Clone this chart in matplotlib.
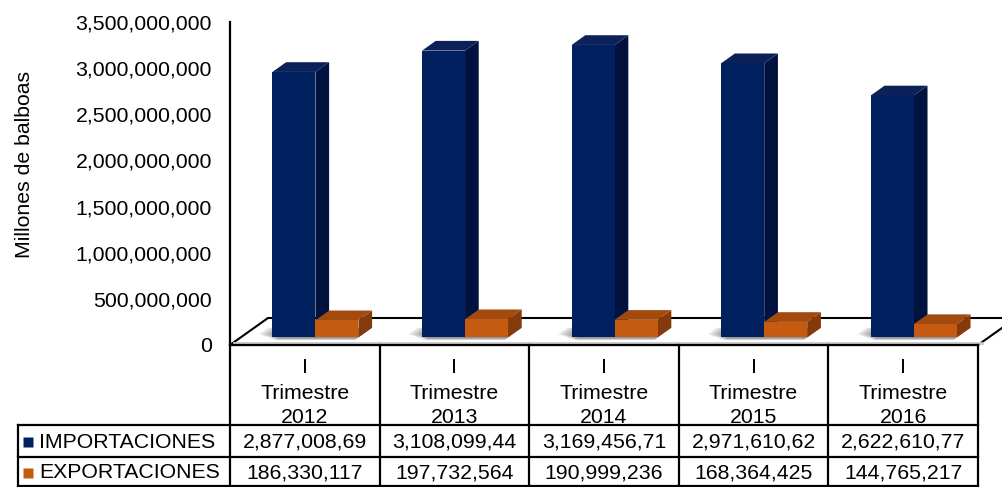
import numpy as np
import matplotlib.pyplot as plt
from matplotlib.patches import Polygon
from matplotlib.ticker import FuncFormatter

plt.rcParams['font.family'] = ['Liberation Sans', 'DejaVu Sans']

# datos
categorias = ['I\nTrimestre\n2012', 'I\nTrimestre\n2013', 'I\nTrimestre\n2014',
              'I\nTrimestre\n2015', 'I\nTrimestre\n2016']
importaciones = [2877008690, 3108099440, 3169456710, 2971610620, 2622610770]
exportaciones = [186330117, 197732564, 190999236, 168364425, 144765217]
imp_txt = ['2,877,008,69', '3,108,099,44', '3,169,456,71', '2,971,610,62', '2,622,610,77']
exp_txt = ['186,330,117', '197,732,564', '190,999,236', '168,364,425', '144,765,217']
series = ['IMPORTACIONES', 'EXPORTACIONES']

# colores (frente, arriba, lado)
azul = ('#002060', '#0c2157', '#00123d')
naranja = ('#c55a11', '#a34a0f', '#86390a')

W, H = 1002, 487
FS = 15.3
DX, DY = 38, 27      # profundidad del piso en pixeles
fig = plt.figure(figsize=(W / 100, H / 100), dpi=100)

ax = fig.add_axes([230 / W, (H - 345) / H, 748 / W, 323 / H])
ax.set_xlim(0, len(categorias))
ax.set_ylim(0, 3.5e9)
ax.set_yticks(np.arange(0, 3.5e9 + 1, 5e8))
ax.yaxis.set_major_formatter(FuncFormatter(lambda v, p: f'{v:,.0f}'))
ax.tick_params(axis='y', length=0, pad=13, labelsize=FS)
ax.set_xticks([])
for s in ['top', 'right', 'bottom']:
    ax.spines[s].set_visible(False)
ax.spines['left'].set_linewidth(1.6)
ax.patch.set_alpha(0)
ax.set_ylabel('Millones de balboas', fontsize=FS)
ax.yaxis.set_label_coords(-0.262, 0.56)

# capa en pixeles para el 3D y la tabla
ov = fig.add_axes([0, 0, 1, 1])
ov.set_xlim(0, W)
ov.set_ylim(H, 0)
ov.axis('off')


def P(x, v, d):
    pt = ax.transData.transform((x, v))
    return (pt[0] + d * DX, H - pt[1] - d * DY)


def caja(x0, x1, v, d0, d1, col, z):
    frente = [P(x0, 0, d0), P(x1, 0, d0), P(x1, v, d0), P(x0, v, d0)]
    arriba = [P(x0, v, d0), P(x1, v, d0), P(x1, v, d1), P(x0, v, d1)]
    lado = [P(x1, 0, d0), P(x1, 0, d1), P(x1, v, d1), P(x1, v, d0)]
    ov.add_patch(Polygon(lado, closed=True, fc=col[2], ec='none', zorder=z))
    ov.add_patch(Polygon(arriba, closed=True, fc=col[1], ec='none', zorder=z))
    ov.add_patch(Polygon(frente, closed=True, fc=col[0], ec='none', zorder=z))


n = len(categorias)
# piso
piso = [P(0, 0, 0), P(n, 0, 0), P(n, 0, 1), P(0, 0, 1)]
ov.add_patch(Polygon(piso, closed=True, fc='white', ec='black', lw=1.5, zorder=1))
x_a, y_a = P(0, 0, 0.1)
x_b, _ = P(n, 0, 0.1)
ov.plot([x_a, x_b], [y_a + 1, y_a + 1], color='#c8c8c8', lw=2, zorder=1.5)

bw = 43 / 149.6
d0, d1 = 0.28, 0.64
for i in range(n):
    c = i + 0.5
    # sombra difusa
    for k in range(7):
        w = 0.015 + k * 0.018
        sh = [P(c - bw - w, 0, d0 + 0.12), P(c - bw + 0.05, 0, d0 - 0.03 - k * 0.012),
              P(c + bw, 0, d0 - 0.03 - k * 0.012), P(c + bw, 0, d1), P(c - bw - w, 0, d1)]
        ov.add_patch(Polygon(sh, closed=True, fc='black', ec='none', alpha=0.07, zorder=2))
    caja(c - bw, c, importaciones[i], d0, d1, azul, 3)
    caja(c, c + bw, exportaciones[i], d0, d1, naranja, 4)

# tabla
lw = 1.6
xs = [P(i, 0, 0)[0] for i in range(n + 1)]
ov.plot([xs[0], xs[-1]], [345, 345], color='black', lw=lw, zorder=5)
for y in [425, 457, 486]:
    ov.plot([18, xs[-1]], [y, y], color='black', lw=lw, zorder=5)
for x in xs:
    ov.plot([x, x], [345, H], color='black', lw=lw, zorder=5)
ov.plot([18, 18], [425, H], color='black', lw=lw, zorder=5)

for i in range(n):
    cx = (xs[i] + xs[i + 1]) / 2
    for linea, yb in zip(categorias[i].split('\n'), [373, 399, 423]):
        ov.text(cx, yb, linea, ha='center', va='baseline', fontsize=FS)
    ov.text(cx, 442, imp_txt[i], ha='center', va='center', fontsize=FS)
    ov.text(cx, 473, exp_txt[i], ha='center', va='center', fontsize=FS)

for y, nombre, col in zip([442, 473], series, [azul, naranja]):
    ov.plot(28, y, marker='s', ms=7.5, color=col[0], mec='none')
    ov.text(39, y, nombre, ha='left', va='center', fontsize=FS)

fig.savefig('out.png', dpi=100)
